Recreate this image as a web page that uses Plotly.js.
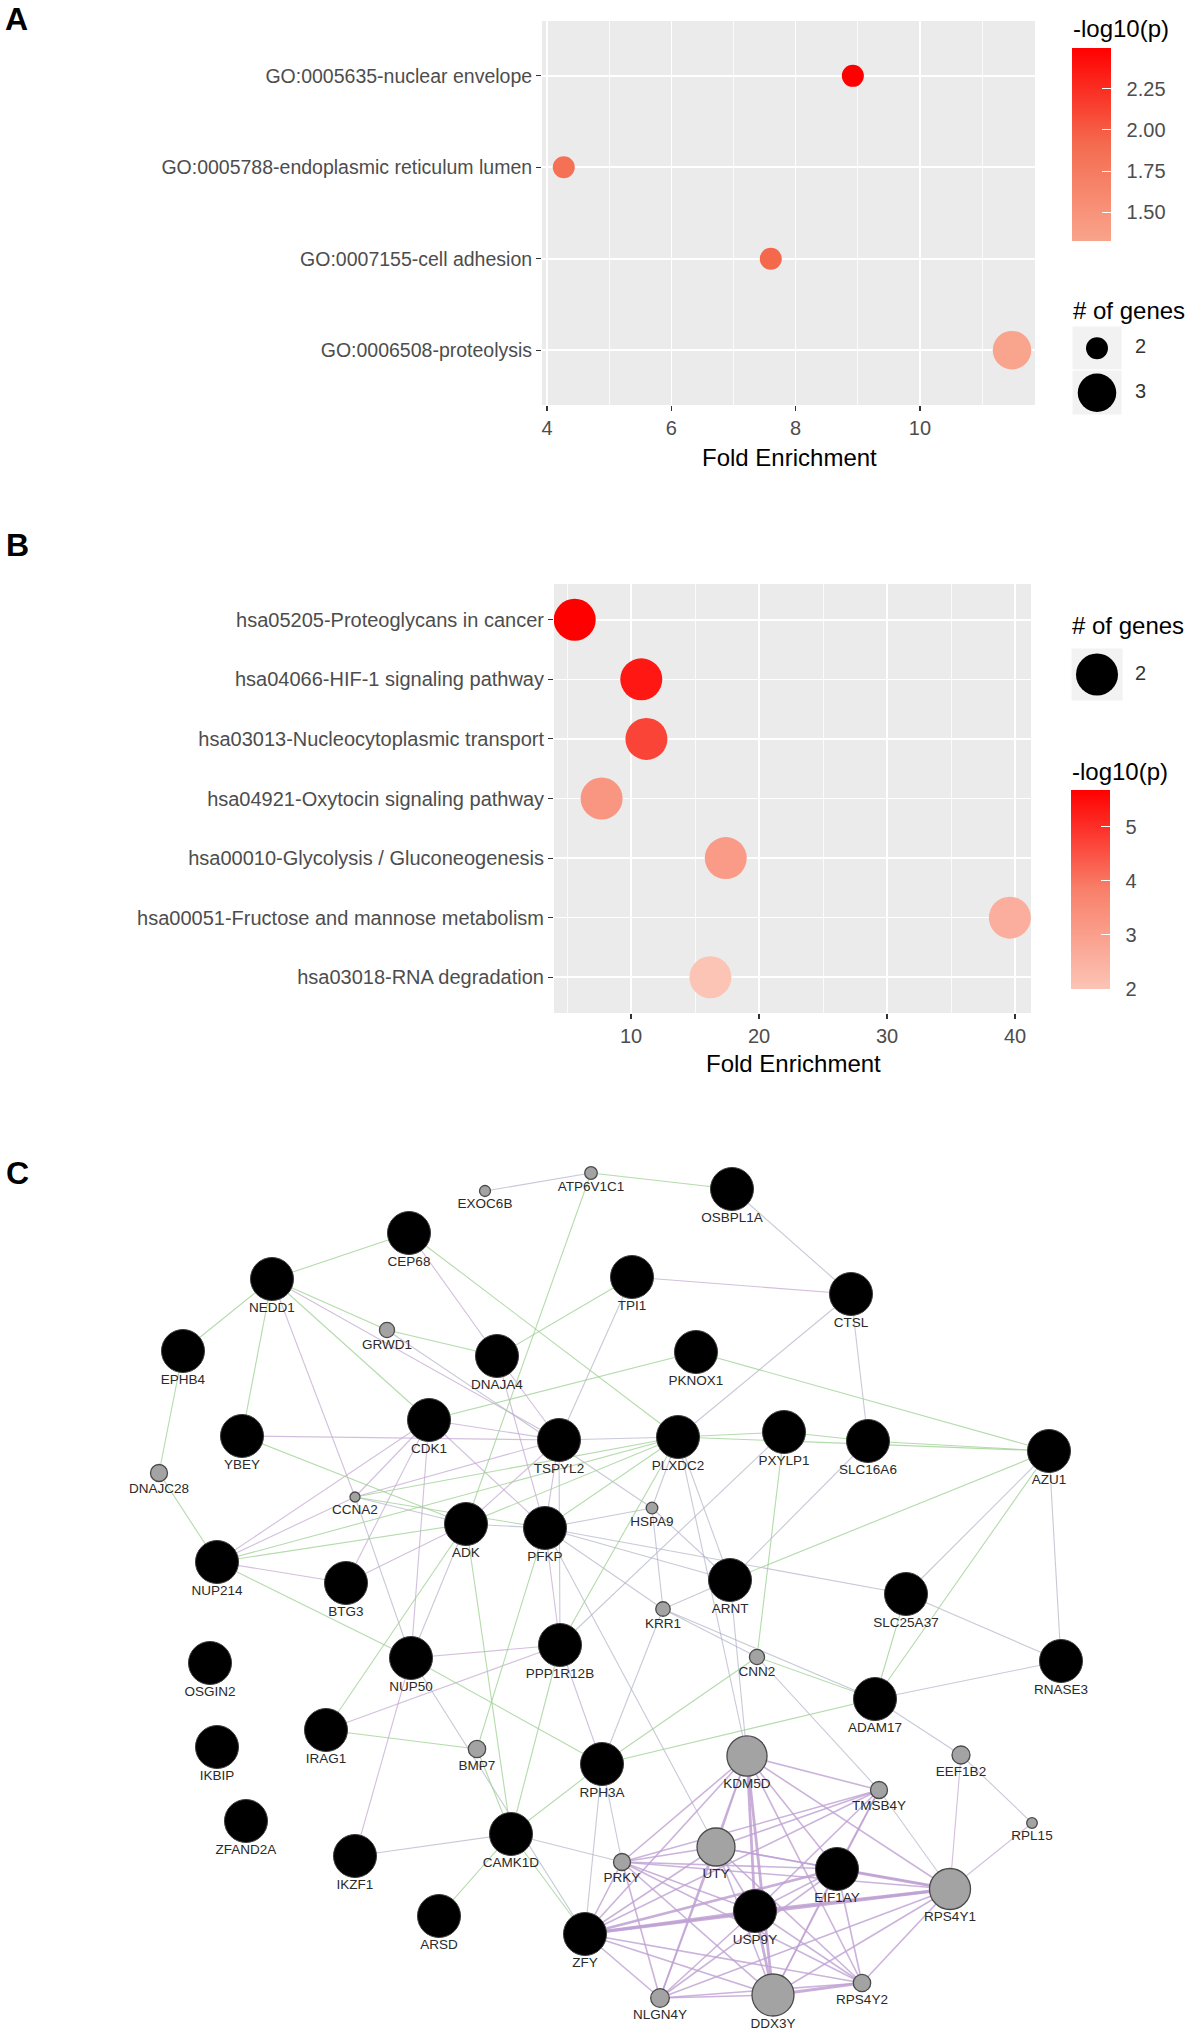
<!DOCTYPE html>
<html><head><meta charset="utf-8">
<script src="https://cdn.plot.ly/plotly-3.0.1.min.js"></script>
<style>html,body{margin:0;padding:0;background:#fff}#plot{width:1200px;height:2041px}</style>
</head><body><div id="plot"></div>
<script>
// ---------------- DATA ----------------
// Panel A: GO terms
const goTerms = ["GO:0005635-nuclear envelope","GO:0005788-endoplasmic reticulum lumen","GO:0007155-cell adhesion","GO:0006508-proteolysis"];
const goFold = [8.92, 4.27, 7.6, 11.48];
const goLogP = [2.497, 1.85, 1.93, 1.325];
const goGenes = [2, 2, 2, 3];
const goTickVals = [1.5, 1.75, 2.0, 2.25];
const goTickText = ["1.50","1.75","2.00","2.25"];

// Panel B: KEGG pathways
const keggTerms = ["hsa05205-Proteoglycans in cancer","hsa04066-HIF-1 signaling pathway","hsa03013-Nucleocytoplasmic transport","hsa04921-Oxytocin signaling pathway","hsa00010-Glycolysis / Gluconeogenesis","hsa00051-Fructose and mannose metabolism","hsa03018-RNA degradation"];
const keggFold = [5.6, 10.8, 11.2, 7.7, 17.4, 39.6, 16.2];
const keggLogP = [5.68, 5.35, 4.7, 3.25, 3.1, 2.6, 2.0];
const keggGenes = [2, 2, 2, 2, 2, 2, 2];
const keggTickVals = [2, 3, 4, 5];
const keggTickText = ["2", "3", "4", "5"];

// Panel C: gene network (layout coordinates)
const queryGenes = ["CEP68","NEDD1","OSBPL1A","TPI1","CTSL","EPHB4","DNAJA4","PKNOX1","CDK1","YBEY","TSPYL2","PLXDC2","PXYLP1","SLC16A6","AZU1","ADK","PFKP","NUP214","BTG3","ARNT","SLC25A37","OSGIN2","NUP50","PPP1R12B","RNASE3","ADAM17","IRAG1","IKBIP","RPH3A","ZFAND2A","IKZF1","CAMK1D","EIF1AY","ARSD","USP9Y","ZFY"];
const queryX = [409,272,732,632,851,183,497,696,429,242,559,678,784,868,1049,466,545,217,346,730,906,210,411,560,1061,875,326,217,602,246,355,511,837,439,755,585];
const queryY = [1233,1279,1189,1277,1294,1351,1356,1352,1420,1436,1440,1437,1432,1441,1451,1524,1528,1562,1583,1580,1594,1663,1658,1645,1661,1699,1730,1747,1764,1821,1856,1834,1869,1916,1911,1934];
const relatedGenes = ["EXOC6B","ATP6V1C1","GRWD1","DNAJC28","CCNA2","HSPA9","KRR1","CNN2","KDM5D","EEF1B2","BMP7","TMSB4Y","RPL15","UTY","PRKY","RPS4Y1","NLGN4Y","DDX3Y","RPS4Y2"];
const relatedX = [485,591,387,159,355,652,663,757,747,961,477,879,1032,716,622,950,660,773,862];
const relatedY = [1191,1173,1330,1473,1497,1508,1609,1657,1756,1755,1749,1790,1823,1847,1862,1889,1998,1995,1983];
const relatedScore = [0.03,0.08,0.16,0.22,0.0,0.05,0.14,0.16,0.94,0.25,0.23,0.22,0.02,0.875,0.22,0.97,0.27,1.0,0.23];

const edgesGenetic = [["CEP68","NEDD1"],["CEP68","PLXDC2"],["NEDD1","EPHB4"],["NEDD1","YBEY"],["NEDD1","GRWD1"],["NEDD1","CDK1"],["GRWD1","DNAJA4"],["EPHB4","DNAJC28"],["DNAJC28","NUP214"],["ATP6V1C1","OSBPL1A"],["ATP6V1C1","ADK"],["YBEY","ADK"],["PKNOX1","CDK1"],["PKNOX1","AZU1"],["PLXDC2","PXYLP1"],["PXYLP1","SLC16A6"],["PLXDC2","AZU1"],["SLC16A6","AZU1"],["PLXDC2","PFKP"],["PLXDC2","ADK"],["NUP214","PLXDC2"],["PXYLP1","CNN2"],["AZU1","ARNT"],["AZU1","ADAM17"],["CCNA2","PFKP"],["NUP214","NUP50"],["IRAG1","ADK"],["IRAG1","BMP7"],["CAMK1D","BMP7"],["CAMK1D","ARSD"],["CAMK1D","ZFY"],["CAMK1D","RPH3A"],["CAMK1D","PPP1R12B"],["CAMK1D","ADK"],["BMP7","PFKP"],["NUP50","RPH3A"],["CNN2","ADAM17"],["CNN2","RPH3A"],["ADAM17","RPH3A"],["ADAM17","SLC25A37"],["DNAJA4","TPI1"],["PPP1R12B","PLXDC2"],["CCNA2","PLXDC2"],["NUP214","ADK"]];
const edgesCoexp = [["CEP68","DNAJA4"],["NEDD1","CCNA2"],["NEDD1","TSPYL2"],["YBEY","TSPYL2"],["CDK1","CCNA2"],["CDK1","BTG3"],["CDK1","NUP50"],["CDK1","TSPYL2"],["DNAJA4","TSPYL2"],["DNAJA4","PFKP"],["NUP214","CDK1"],["NUP214","CCNA2"],["NUP50","PPP1R12B"],["IRAG1","PPP1R12B"],["NUP50","IKZF1"],["TSPYL2","ADK"],["TSPYL2","PFKP"],["CCNA2","TSPYL2"],["PFKP","PPP1R12B"],["TPI1","CTSL"],["PPP1R12B","RPH3A"],["EEF1B2","RPS4Y1"],["RPL15","RPS4Y1"],["BTG3","ADK"],["NUP214","BTG3"],["CDK1","PFKP"]];
const edgesColoc = [["EXOC6B","ATP6V1C1"],["OSBPL1A","CTSL"],["TPI1","TSPYL2"],["CTSL","PLXDC2"],["CTSL","SLC16A6"],["PLXDC2","TSPYL2"],["PLXDC2","HSPA9"],["PLXDC2","ARNT"],["PXYLP1","PPP1R12B"],["SLC16A6","ARNT"],["AZU1","SLC25A37"],["AZU1","RNASE3"],["GRWD1","HSPA9"],["HSPA9","ARNT"],["HSPA9","KRR1"],["HSPA9","PFKP"],["ARNT","KRR1"],["ARNT","KDM5D"],["KRR1","CNN2"],["KRR1","RPH3A"],["KRR1","ADAM17"],["CNN2","TMSB4Y"],["ADAM17","RNASE3"],["ADAM17","EEF1B2"],["SLC25A37","RNASE3"],["EEF1B2","RPL15"],["CCNA2","ADK"],["ADK","PFKP"],["CAMK1D","IKZF1"],["CAMK1D","PRKY"],["RPH3A","PRKY"],["RPH3A","ZFY"],["NUP50","ZFY"],["PFKP","ARNT"],["PFKP","KRR1"],["PFKP","SLC25A37"],["TMSB4Y","RPS4Y1"],["ADK","NUP50"],["CCNA2","NUP50"],["PFKP","UTY"],["PLXDC2","KDM5D"],["TSPYL2","PPP1R12B"]];
const edgesYStrong = [["KDM5D","USP9Y"],["USP9Y","ZFY"],["EIF1AY","RPS4Y1"],["USP9Y","RPS4Y1"],["USP9Y","DDX3Y"],["ZFY","EIF1AY"],["DDX3Y","RPS4Y2"],["KDM5D","DDX3Y"],["ZFY","RPS4Y1"]];
const edgesY = [["KDM5D","TMSB4Y"],["KDM5D","RPS4Y1"],["KDM5D","UTY"],["KDM5D","EIF1AY"],["KDM5D","PRKY"],["KDM5D","ZFY"],["KDM5D","NLGN4Y"],["KDM5D","RPS4Y2"],["TMSB4Y","PRKY"],["TMSB4Y","UTY"],["TMSB4Y","ZFY"],["TMSB4Y","EIF1AY"],["TMSB4Y","DDX3Y"],["TMSB4Y","USP9Y"],["UTY","EIF1AY"],["UTY","USP9Y"],["UTY","DDX3Y"],["UTY","PRKY"],["UTY","ZFY"],["UTY","NLGN4Y"],["UTY","RPS4Y1"],["UTY","RPS4Y2"],["EIF1AY","USP9Y"],["EIF1AY","DDX3Y"],["EIF1AY","PRKY"],["EIF1AY","RPS4Y2"],["EIF1AY","NLGN4Y"],["USP9Y","PRKY"],["USP9Y","NLGN4Y"],["USP9Y","RPS4Y2"],["DDX3Y","RPS4Y1"],["DDX3Y","NLGN4Y"],["DDX3Y","ZFY"],["DDX3Y","PRKY"],["RPS4Y1","RPS4Y2"],["RPS4Y1","PRKY"],["RPS4Y1","NLGN4Y"],["ZFY","PRKY"],["ZFY","NLGN4Y"],["ZFY","RPS4Y2"],["NLGN4Y","PRKY"],["NLGN4Y","RPS4Y2"],["PRKY","RPS4Y2"]];

// ---------------- LAYOUT HELPERS ----------------
const W = 1200, H = 2041;
const px = x => x / W;
const py = y => 1 - y / H;
const FONT = "Liberation Sans, Arial, sans-serif";
const TICKGRAY = "#4d4d4d";
const PAD = "\u00a0\u00a0";

function rescale(v, dmin, dmax, rmin, rmax) {
  if (dmax === dmin) return (rmin + rmax) / 2;
  return rmin + (v - dmin) * (rmax - rmin) / (dmax - dmin);
}
const aMin = Math.min(...goGenes), aMax = Math.max(...goGenes);
const sizeA = n => rescale(n, aMin, aMax, 22, 38.5);
const sizeB = n => 42;

const csA = [[0, "#f9a48c"], [0.5, "#f46b4f"], [1, "#ff0000"]];
const csB = [[0, "#fcc4b5"], [0.5, "#f8806a"], [1, "#ff0000"]];

// ---------------- TRACES ----------------
const traces = [];
traces.push({
  type: "scatter", mode: "markers", xaxis: "x", yaxis: "y",
  x: goFold, y: goTerms, hoverinfo: "skip",
  marker: {
    size: goGenes.map(sizeA), color: goLogP, colorscale: csA, opacity: 1,
    cmin: Math.min(...goLogP), cmax: Math.max(...goLogP), line: {width: 0},
    showscale: true,
    colorbar: {x: px(1072), xanchor: "left", xpad: 0, y: py(48), yanchor: "top", ypad: 0,
      len: 193, lenmode: "pixels", thickness: 39, thicknessmode: "pixels", outlinewidth: 0,
      tickvals: goTickVals, ticktext: goTickText.map(t => PAD + t), ticks: "inside", ticklen: 9, tickcolor: "#ffffff", tickwidth: 1,
      tickfont: {family: FONT, size: 20, color: TICKGRAY}, title: {text: ""}}
  }
});
traces.push({
  type: "scatter", mode: "markers", xaxis: "x2", yaxis: "y2",
  x: keggFold, y: keggTerms, hoverinfo: "skip",
  marker: {
    size: keggGenes.map(sizeB), color: keggLogP, colorscale: csB, opacity: 1,
    cmin: Math.min(...keggLogP), cmax: Math.max(...keggLogP), line: {width: 0},
    showscale: true,
    colorbar: {x: px(1071), xanchor: "left", xpad: 0, y: py(790), yanchor: "top", ypad: 0,
      len: 199, lenmode: "pixels", thickness: 39, thicknessmode: "pixels", outlinewidth: 0,
      tickvals: keggTickVals, ticktext: keggTickText.map(t => PAD + t), ticks: "inside", ticklen: 9, tickcolor: "#ffffff", tickwidth: 1,
      tickfont: {family: FONT, size: 20, color: TICKGRAY}, title: {text: ""}}
  }
});
// size legends
const legA = [...new Set(goGenes)].sort();
traces.push({type: "scatter", mode: "markers", xaxis: "x4", yaxis: "y4", x: legA.map(() => 25), y: legA,
  marker: {size: legA.map(sizeA), color: "#000", opacity: 1, line: {width: 0}}, hoverinfo: "skip"});
traces.push({type: "scatter", mode: "text", xaxis: "x4", yaxis: "y4", x: legA.map(() => 63), y: legA,
  text: legA.map(String), textposition: "middle right", textfont: {family: FONT, size: 20, color: "#333"}, hoverinfo: "skip"});
const legB = [...new Set(keggGenes)].sort();
traces.push({type: "scatter", mode: "markers", xaxis: "x5", yaxis: "y5", x: legB.map(() => 26), y: legB,
  marker: {size: legB.map(sizeB), color: "#000", opacity: 1, line: {width: 0}}, hoverinfo: "skip"});
traces.push({type: "scatter", mode: "text", xaxis: "x5", yaxis: "y5", x: legB.map(() => 64), y: legB,
  text: legB.map(String), textposition: "middle right", textfont: {family: FONT, size: 20, color: "#333"}, hoverinfo: "skip"});

// network
const pos = {};
queryGenes.forEach((g, i) => pos[g] = [queryX[i], queryY[i]]);
relatedGenes.forEach((g, i) => pos[g] = [relatedX[i], relatedY[i]]);
function edgeTrace(list, color, width) {
  const xs = [], ys = [];
  list.forEach(([a, b]) => { xs.push(pos[a][0], pos[b][0], null); ys.push(pos[a][1], pos[b][1], null); });
  return {type: "scatter", mode: "lines", xaxis: "x3", yaxis: "y3", x: xs, y: ys,
    line: {color: color, width: width}, hoverinfo: "skip"};
}
traces.push(edgeTrace(edgesColoc, "rgba(175,178,198,0.7)", 1.1));
traces.push(edgeTrace(edgesCoexp, "rgba(196,170,210,0.75)", 1.1));
traces.push(edgeTrace(edgesGenetic, "rgba(160,210,150,0.8)", 1.1));
traces.push(edgeTrace(edgesY, "rgba(190,160,210,0.8)", 1.6));
traces.push(edgeTrace(edgesYStrong, "rgba(190,160,210,0.85)", 2.8));

const QSIZE = 43;
const relSize = s => 10 + 32 * s;
traces.push({type: "scatter", mode: "markers", xaxis: "x3", yaxis: "y3", x: relatedX, y: relatedY,
  marker: {size: relatedScore.map(relSize), color: "#a3a3a3", opacity: 1, line: {color: "#4a4a4a", width: 1.3}}, hoverinfo: "skip"});
traces.push({type: "scatter", mode: "markers", xaxis: "x3", yaxis: "y3", x: queryX, y: queryY,
  marker: {size: QSIZE, color: "#000000", opacity: 1, line: {color: "#3a3a3a", width: 1}}, hoverinfo: "skip"});
const labX = queryX.concat(relatedX);
const labY = queryY.map(y => y + QSIZE / 2 + 8.5).concat(relatedY.map((y, i) => y + relSize(relatedScore[i]) / 2 + 8.5));
traces.push({type: "scatter", mode: "text", xaxis: "x3", yaxis: "y3", x: labX, y: labY,
  text: queryGenes.concat(relatedGenes), textposition: "middle center",
  textfont: {family: FONT, size: 13.5, color: "#2a2a2a"}, hoverinfo: "skip"});

// ---------------- AXES ----------------
const catAxisFont = {family: FONT, size: 19.5, color: TICKGRAY};
const layout = {
  width: W, height: H, margin: {l: 0, r: 0, t: 0, b: 0},
  paper_bgcolor: "#ffffff", plot_bgcolor: "rgba(0,0,0,0)", showlegend: false,
  font: {family: FONT},
  xaxis: {domain: [px(542), px(1035)], range: [3.92, 11.85], anchor: "y", tick0: 4, dtick: 2,
    showgrid: true, gridcolor: "#ffffff", gridwidth: 1.6, zeroline: false, showline: false,
    ticks: "outside", ticklen: 5, tickcolor: "#333", tickwidth: 1.1,
    tickfont: {family: FONT, size: 20, color: TICKGRAY},
    minor: {dtick: 1, showgrid: true, gridcolor: "#ffffff", gridwidth: 0.8}},
  yaxis: {domain: [py(405), py(21)], type: "category", categoryorder: "array", categoryarray: goTerms,
    range: [goTerms.length - 0.4, -0.6], anchor: "x",
    showgrid: true, gridcolor: "#ffffff", gridwidth: 1.6, zeroline: false, showline: false,
    ticks: "outside", ticklen: 5, tickcolor: "#333", tickwidth: 1.1, tickfont: catAxisFont},
  xaxis2: {domain: [px(554), px(1031)], range: [3.98, 41.25], anchor: "y2", tick0: 10, dtick: 10,
    showgrid: true, gridcolor: "#ffffff", gridwidth: 1.6, zeroline: false, showline: false,
    ticks: "outside", ticklen: 5, tickcolor: "#333", tickwidth: 1.1,
    tickfont: {family: FONT, size: 20, color: TICKGRAY},
    minor: {tick0: 5, dtick: 5, showgrid: true, gridcolor: "#ffffff", gridwidth: 0.8}},
  yaxis2: {domain: [py(1013), py(584)], type: "category", categoryorder: "array", categoryarray: keggTerms,
    range: [keggTerms.length - 0.4, -0.6], anchor: "x2",
    showgrid: true, gridcolor: "#ffffff", gridwidth: 1.6, zeroline: false, showline: false,
    ticks: "outside", ticklen: 5, tickcolor: "#333", tickwidth: 1.1,
    tickfont: {family: FONT, size: 20, color: TICKGRAY}},
  xaxis3: {domain: [0, 1], range: [0, W], anchor: "y3", visible: false, fixedrange: true},
  yaxis3: {domain: [0, py(1140)], range: [H, 1140], anchor: "x3", visible: false, fixedrange: true},
  xaxis4: {domain: [px(1072), px(1160)], range: [0, 88], anchor: "y4", visible: false},
  yaxis4: {domain: [py(415), py(326)], range: [3.5, 1.5], anchor: "x4", visible: false},
  xaxis5: {domain: [px(1071), px(1160)], range: [0, 89], anchor: "y5", visible: false},
  yaxis5: {domain: [py(701), py(648)], range: [2.5, 1.5], anchor: "x5", visible: false},
  shapes: [
    {type: "rect", xref: "paper", yref: "paper", x0: px(542), x1: px(1035), y0: py(405), y1: py(21), fillcolor: "#ebebeb", line: {width: 0}, layer: "below"},
    {type: "rect", xref: "paper", yref: "paper", x0: px(554), x1: px(1031), y0: py(1013), y1: py(584), fillcolor: "#ebebeb", line: {width: 0}, layer: "below"},
    {type: "rect", xref: "paper", yref: "paper", x0: px(1072), x1: px(1122), y0: py(370), y1: py(326), fillcolor: "#f2f2f2", line: {color: "#ffffff", width: 1}, layer: "below"},
    {type: "rect", xref: "paper", yref: "paper", x0: px(1072), x1: px(1122), y0: py(415), y1: py(370), fillcolor: "#f2f2f2", line: {color: "#ffffff", width: 1}, layer: "below"},
    {type: "rect", xref: "paper", yref: "paper", x0: px(1071), x1: px(1123), y0: py(701), y1: py(648), fillcolor: "#f2f2f2", line: {color: "#ffffff", width: 1}, layer: "below"}
  ],
  annotations: [
    {text: "<b>A</b>", x: px(3), y: py(19), xref: "paper", yref: "paper", xanchor: "left", yanchor: "middle", showarrow: false, font: {family: FONT, size: 32, color: "#000"}},
    {text: "<b>B</b>", x: px(4), y: py(545), xref: "paper", yref: "paper", xanchor: "left", yanchor: "middle", showarrow: false, font: {family: FONT, size: 32, color: "#000"}},
    {text: "<b>C</b>", x: px(4), y: py(1173), xref: "paper", yref: "paper", xanchor: "left", yanchor: "middle", showarrow: false, font: {family: FONT, size: 32, color: "#000"}},
    {text: "Fold Enrichment", x: px(789), y: py(457), xref: "paper", yref: "paper", xanchor: "center", yanchor: "middle", showarrow: false, font: {family: FONT, size: 24, color: "#000"}},
    {text: "Fold Enrichment", x: px(793), y: py(1063), xref: "paper", yref: "paper", xanchor: "center", yanchor: "middle", showarrow: false, font: {family: FONT, size: 24, color: "#000"}},
    {text: "-log10(p)", x: px(1071), y: py(28), xref: "paper", yref: "paper", xanchor: "left", yanchor: "middle", showarrow: false, font: {family: FONT, size: 24, color: "#000"}},
    {text: "# of genes", x: px(1071), y: py(310), xref: "paper", yref: "paper", xanchor: "left", yanchor: "middle", showarrow: false, font: {family: FONT, size: 24, color: "#000"}},
    {text: "# of genes", x: px(1070), y: py(625), xref: "paper", yref: "paper", xanchor: "left", yanchor: "middle", showarrow: false, font: {family: FONT, size: 24, color: "#000"}},
    {text: "-log10(p)", x: px(1070), y: py(771), xref: "paper", yref: "paper", xanchor: "left", yanchor: "middle", showarrow: false, font: {family: FONT, size: 24, color: "#000"}}
  ]
};
Plotly.newPlot("plot", traces, layout, {staticPlot: true, displayModeBar: false});
</script></body></html>
